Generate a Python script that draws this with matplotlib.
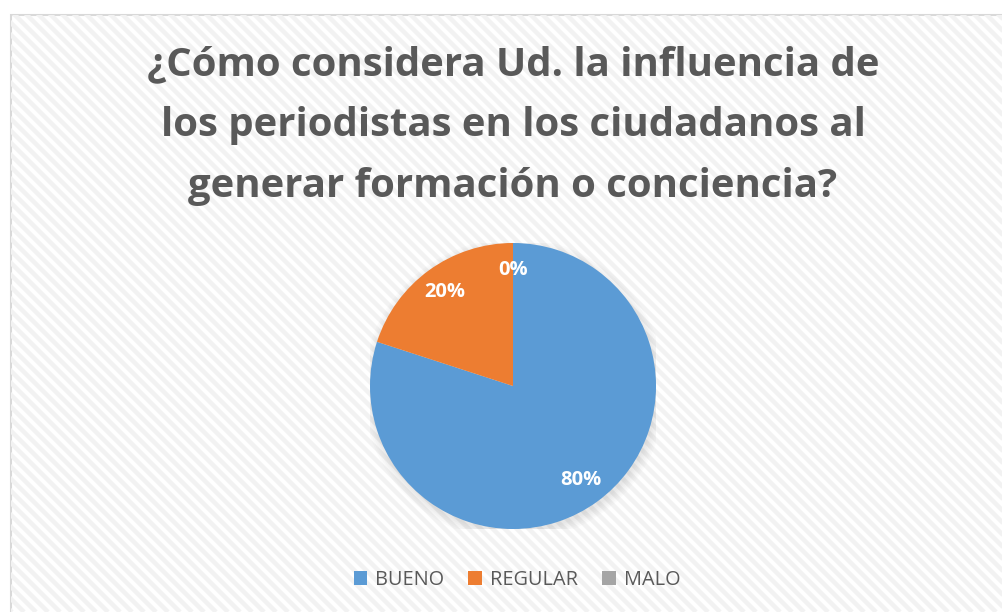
import matplotlib
matplotlib.use('Agg')
import matplotlib.pyplot as plt
from matplotlib.patches import Rectangle, Circle
import numpy as np

# datos
categorias = ['BUENO', 'REGULAR', 'MALO']
porcentajes = [80, 20, 0]
colores = ['#5B9BD5', '#ED7D31', '#A5A5A5']
titulo = ['¿Cómo considera Ud. la influencia de',
          'los periodistas en los ciudadanos al',
          'generar formación o conciencia?']

W, H = 1002, 612
plt.rcParams['font.family'] = ['Open Sans', 'DejaVu Sans']

fig = plt.figure(figsize=(W / 100, H / 100), dpi=100)

# fondo con rayas diagonales y borde (en pixeles)
bg = fig.add_axes([0, 0, 1, 1])
bg.set_xlim(0, W)
bg.set_ylim(0, H)
bg.axis('off')
bg.set_zorder(0)
caja = Rectangle((11, -10), W + 20, H - 15 + 10, facecolor='white', edgecolor='none')
bg.add_patch(caja)
for c in range(-H, W + 20, 12):
    ln, = bg.plot([c, c + H], [H, 0], color='#f2f2f2', lw=3.2, solid_capstyle='butt')
    ln.set_clip_path(caja)
bg.add_patch(Rectangle((11, -10), W + 20, H - 15 + 10, facecolor='none',
                       edgecolor='#d9d9d9', linewidth=1.5))

# titulo
for i, linea in enumerate(titulo):
    y_base = 75 + i * 61
    fig.text(513 / W, 1 - y_base / H, linea, ha='center', va='baseline',
             fontsize=28.9, fontweight='bold', color='#595959', zorder=3)

# pastel
cx, cy, r = 513, 386, 143
ax = fig.add_axes([(cx - r) / W, (H - cy - r) / H, 2 * r / W, 2 * r / H])
ax.set_zorder(2)
ax.set_facecolor('none')

# sombra suave
for k in range(6):
    ax.add_patch(Circle((0.01, -0.025), 1.0 + 0.012 * k, color='black',
                        alpha=0.016, lw=0, zorder=0))

wedges = ax.pie(porcentajes, colors=colores, startangle=90, counterclock=False,
                radius=1, wedgeprops=dict(linewidth=0))[0]
for w in wedges:
    w.set_zorder(2)

# etiquetas de porcentaje
inicio = 90
for p in porcentajes:
    ang = np.deg2rad(inicio - p / 100 * 360 / 2)
    ax.text(0.81 * np.cos(ang), 0.81 * np.sin(ang), f'{p}%', ha='center', va='center',
            color='white', fontsize=14.5, fontweight='bold', zorder=3)
    inicio -= p / 100 * 360
ax.set_xlim(-1, 1)
ax.set_ylim(-1, 1)
ax.axis('off')

# leyenda
leg = fig.legend(wedges, categorias, loc='center', bbox_to_anchor=(517 / W, 1 - 580 / H),
                 ncol=3, frameon=False, fontsize=14.3, handlelength=0.7, handleheight=0.7,
                 handletextpad=0.4, columnspacing=1.2)
leg.set_zorder(3)
for t in leg.get_texts():
    t.set_color('#595959')

fig.savefig('out.png', dpi=100)
